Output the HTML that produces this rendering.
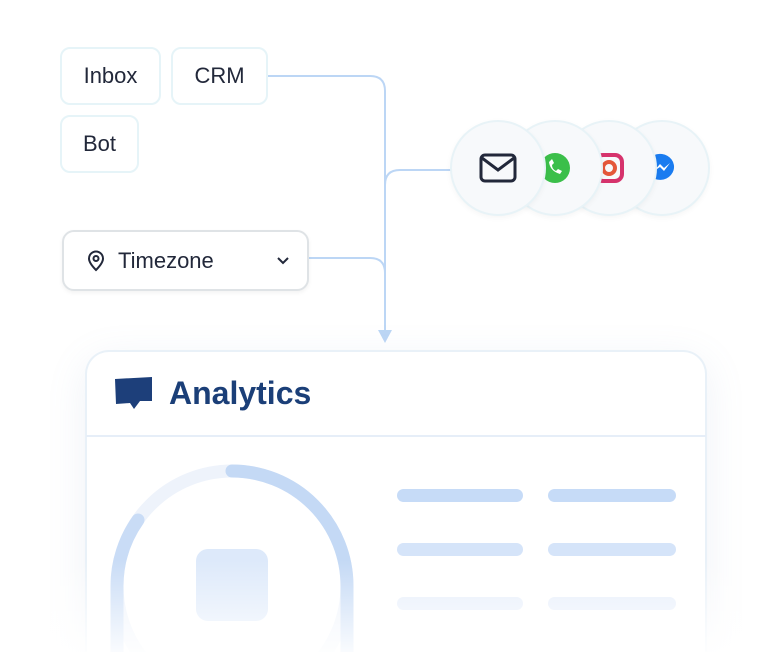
<!DOCTYPE html>
<html style="overflow:hidden;width:768px;height:652px"><head><style>
body{margin:0;width:768px;height:652px;background:#fff;position:relative;overflow:hidden;font-family:"Liberation Sans",sans-serif}
.chip{position:absolute;border:2px solid #e6f4f8;border-radius:10px;background:#fff;color:#22283a;font-size:22px;display:flex;align-items:center;justify-content:center;box-sizing:border-box}
.circ{position:absolute;width:96px;height:96px;border-radius:50%;background:#f7f9fb;border:2px solid #e8f3f7;box-sizing:border-box;box-shadow:0 2px 6px rgba(0,0,0,.04);display:flex;align-items:center;justify-content:center}
.bar{position:absolute;height:13px;border-radius:7px}
</style></head><body>
<svg width="768" height="652" style="position:absolute;left:0;top:0">
<g fill="none" stroke="#bcd6f5" stroke-width="2">
<path d="M267 76 H370 Q385 76 385 91 V330"/>
<path d="M308 258 H370 Q385 258 385 273"/>
<path d="M452 170 H400 Q385 170 385 185"/>
</g>
<path d="M378 330 L392 330 L385 343 Z" fill="#bcd6f5"/>
</svg>
<div class="chip" style="left:60px;top:47px;width:101px;height:58px">Inbox</div>
<div class="chip" style="left:171px;top:47px;width:97px;height:58px">CRM</div>
<div class="chip" style="left:60px;top:115px;width:79px;height:58px">Bot</div>
<div class="chip" style="left:62px;top:230px;width:247px;height:61px;border:2px solid #dfe3e6;border-radius:12px;justify-content:flex-start;padding-left:22px;box-shadow:0 2px 4px rgba(0,0,0,.05)">
<svg width="20" height="22" viewBox="0 0 20 22"><path d="M10 20 C4 14 3 11 3 8.5 A7 7 0 0 1 17 8.5 C17 11 16 14 10 20Z" fill="none" stroke="#22283a" stroke-width="2"/><circle cx="10" cy="8.5" r="2.5" fill="none" stroke="#22283a" stroke-width="2"/></svg>
<span style="margin-left:12px">Timezone</span>
<svg style="position:absolute;left:212px;top:24px" width="14" height="9"><path d="M2 2 L7 7 L12 2" fill="none" stroke="#22283a" stroke-width="2"/></svg></div>
<div class="circ" style="left:614px;top:120px"><svg width="34" height="34" viewBox="0 0 34 34"><path d="M17 3 A14 13 0 1 1 10 28 L5 31 L5 25 A14 13 0 0 1 17 3Z" fill="#1a7cf0"/><path d="M9 20 L15 13 L19 17 L25 12 L19 20 L15 16Z" fill="#fff"/></svg></div>
<div class="circ" style="left:561px;top:120px"><svg width="34" height="34"><rect x="4" y="4" width="26" height="26" rx="7" fill="none" stroke="#d6336c" stroke-width="4"/><circle cx="17" cy="17" r="6" fill="none" stroke="#e4573a" stroke-width="4"/></svg></div>
<div class="circ" style="left:507px;top:120px"><svg width="34" height="34"><circle cx="17" cy="17" r="15" fill="#3bbf4a"/><path d="M11 11 Q12 20 22 23 L24 20 L20 18 L18 20 Q14 18 14 14 L16 12 L14 8Z" fill="#fff"/></svg></div>
<div class="circ" style="left:450px;top:120px"><svg width="38" height="30"><rect x="2" y="2" width="34" height="26" rx="4" fill="none" stroke="#22283a" stroke-width="3"/><path d="M3 5 L19 17 L35 5" fill="none" stroke="#22283a" stroke-width="3"/></svg></div>
<div style="position:absolute;left:85px;top:350px;width:622px;height:302px;border:2px solid #e9f1f8;border-bottom:none;border-radius:24px 24px 0 0;box-sizing:border-box;background:#fff;box-shadow:0 10px 40px rgba(120,150,190,.12)"></div>
<div style="position:absolute;left:86px;top:435px;width:620px;height:2px;background:#e6eef8"></div>
<svg style="position:absolute;left:114px;top:376px" width="40" height="34"><path d="M1 3 L38 1 L38 25 L26 25 L20 33 L16 27 L2 28Z" fill="#1d3f7a"/></svg>
<div style="position:absolute;left:169px;top:375px;font-size:32px;font-weight:bold;color:#1b3f78">Analytics</div>
<svg style="position:absolute;left:0;top:0" width="768" height="652">
<circle cx="232" cy="586" r="115" fill="none" stroke="#eef3fb" stroke-width="13"/>
<path d="M232 471 A115 115 0 0 1 347 586 V652" fill="none" stroke="#c4d9f5" stroke-width="13" stroke-linecap="round"/>
<path d="M138 520 A115 115 0 0 0 117 586 V652" fill="none" stroke="#c9dcf6" stroke-width="13" stroke-linecap="round"/>
<rect x="196" y="549" width="72" height="72" rx="12" fill="#dde9fa"/>
</svg>
<div class="bar" style="left:397px;top:489px;width:126px;background:#c6dbf7"></div>
<div class="bar" style="left:548px;top:489px;width:128px;background:#c6dbf7"></div>
<div class="bar" style="left:397px;top:543px;width:126px;background:#d5e4f9"></div>
<div class="bar" style="left:548px;top:543px;width:128px;background:#d5e4f9"></div>
<div class="bar" style="left:397px;top:597px;width:126px;background:#e6eefb"></div>
<div class="bar" style="left:548px;top:597px;width:128px;background:#e6eefb"></div>
<div style="position:absolute;left:0;top:560px;width:768px;height:92px;background:linear-gradient(rgba(255,255,255,0),rgba(255,255,255,.9))"></div>
</body></html>
